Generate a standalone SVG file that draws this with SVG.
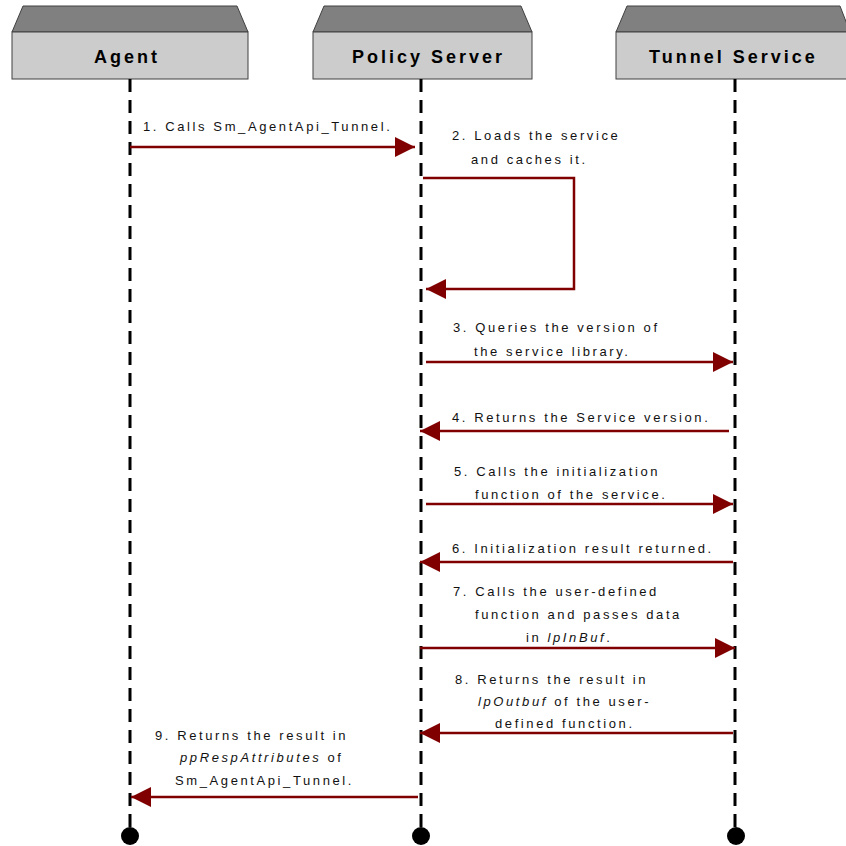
<svg xmlns="http://www.w3.org/2000/svg" width="846" height="846" viewBox="0 0 846 846">
<style>
.roof{fill:#808080;stroke:#404040;stroke-width:1}
.box{fill:#cccccc;stroke:#404040;stroke-width:1}
.hd{font-family:"Liberation Sans",Arial,sans-serif;font-weight:bold;font-size:18px;letter-spacing:3px;fill:#000}
.life{stroke:#000;stroke-width:3;stroke-dasharray:13 8;fill:none}
.msg{stroke:#800000;stroke-width:2.5;fill:none}
.lb{font-family:"Liberation Sans",Arial,sans-serif;font-size:13px;letter-spacing:2.6px;fill:#111}
.it{font-style:italic}
</style>
<defs>
<marker id="ah" markerUnits="userSpaceOnUse" markerWidth="20" markerHeight="20" viewBox="0 0 20 20" refX="20" refY="10" orient="auto">
<path d="M0,0 L20,10 L0,20 z" fill="#800000"/>
</marker>
</defs>
<rect width="846" height="846" fill="#fff"/>
<g id="agent">
<polygon class="roof" points="23,6 237,6 248,32 12,32"/>
<rect class="box" x="12" y="32" width="236" height="47"/>
<text class="hd" x="94" y="63" letter-spacing="3.8">Agent</text>
<line class="life" x1="130" y1="79" x2="130" y2="828"/>
<circle cx="130" cy="836" r="9" fill="#000"/>
</g>
<g id="policy-server">
<polygon class="roof" points="324,6 521,6 532,32 313,32"/>
<rect class="box" x="313" y="32" width="219" height="47"/>
<text class="hd" x="352" y="63">Policy Server</text>
<line class="life" x1="421" y1="79" x2="421" y2="828"/>
<circle cx="421" cy="836" r="9" fill="#000"/>
</g>
<g id="tunnel-service">
<polygon class="roof" points="627,6 840,6 850,32 616,32"/>
<rect class="box" x="616" y="32" width="240" height="47"/>
<text class="hd" x="649" y="63">Tunnel Service</text>
<line class="life" x1="735" y1="79" x2="735" y2="828"/>
<circle cx="736" cy="836" r="9" fill="#000"/>
</g>
<g id="connectors">
<line class="msg" x1="130" y1="147" x2="415" y2="147" marker-end="url(#ah)"/>
<polyline class="msg" points="423,178 574,178 574,289 426,289" marker-end="url(#ah)"/>
<line class="msg" x1="426" y1="362" x2="733" y2="362" marker-end="url(#ah)"/>
<line class="msg" x1="729" y1="431" x2="420" y2="431" marker-end="url(#ah)"/>
<line class="msg" x1="426" y1="504" x2="733" y2="504" marker-end="url(#ah)"/>
<line class="msg" x1="733" y1="562" x2="420" y2="562" marker-end="url(#ah)"/>
<line class="msg" x1="420" y1="648" x2="735" y2="648" marker-end="url(#ah)"/>
<line class="msg" x1="733" y1="733" x2="420" y2="733" marker-end="url(#ah)"/>
<line class="msg" x1="418" y1="797" x2="131" y2="797" marker-end="url(#ah)"/>
</g>
<g id="labels">
<text class="lb" x="143" y="131" letter-spacing="2.9">1. Calls Sm_AgentApi_Tunnel.</text>
<text class="lb" x="452" y="140">2. Loads the service</text>
<text class="lb" x="471" y="164">and caches it.</text>
<text class="lb" x="453" y="332">3. Queries the version of</text>
<text class="lb" x="474" y="356">the service library.</text>
<text class="lb" x="452" y="422">4. Returns the Service version.</text>
<text class="lb" x="454" y="476">5. Calls the initialization</text>
<text class="lb" x="475" y="499">function of the service.</text>
<text class="lb" x="452" y="553">6. Initialization result returned.</text>
<text class="lb" x="453" y="596">7. Calls the user-defined</text>
<text class="lb" x="475" y="619">function and passes data</text>
<text class="lb" x="526" y="642">in <tspan class="it">lpInBuf</tspan>.</text>
<text class="lb" x="455" y="684">8. Returns the result in</text>
<text class="lb" x="478" y="706"><tspan class="it">lpOutbuf</tspan> of the user-</text>
<text class="lb" x="495" y="728">defined function.</text>
<text class="lb" x="155" y="740">9. Returns the result in</text>
<text class="lb" x="180" y="762"><tspan class="it">ppRespAttributes</tspan> of</text>
<text class="lb" x="175" y="785">Sm_AgentApi_Tunnel.</text>
</g>
</svg>
